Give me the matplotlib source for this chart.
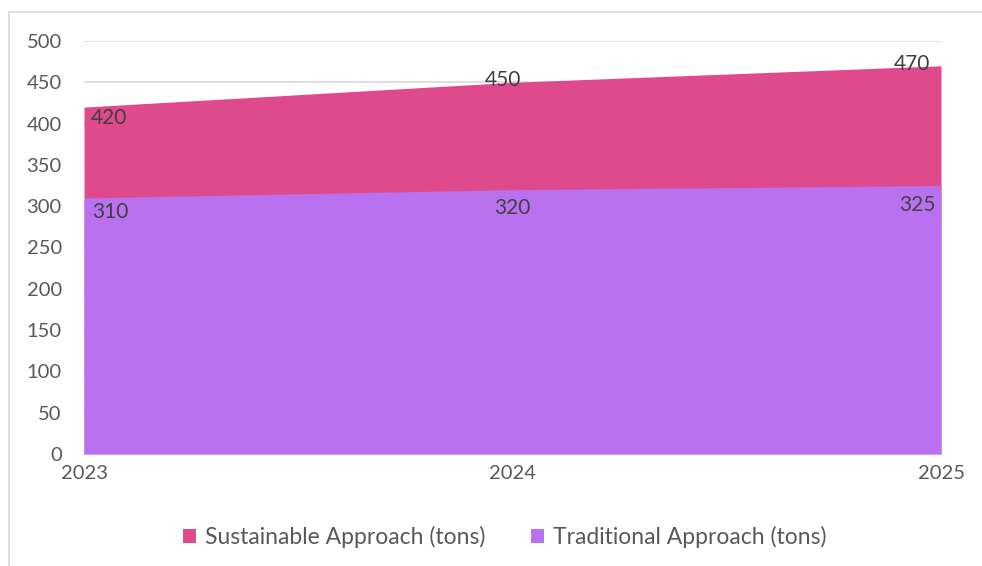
import matplotlib.pyplot as plt
from matplotlib.patches import Rectangle

years = ["2023", "2024", "2025"]
sustainable = [420, 450, 470]
traditional = [310, 320, 325]

pink = "#DF4A8C"
purple = "#B971F0"

plt.rcParams['font.family'] = ['Lato', 'DejaVu Sans']

fig = plt.figure(figsize=(9.82, 5.66), dpi=100)
ax = fig.add_axes([84 / 982, 1 - 454 / 566, (941 - 84) / 982, (454 - 41) / 566])

x = list(range(len(years)))
ax.fill_between(x, 0, sustainable, color=pink, linewidth=0, zorder=2, label="Sustainable Approach (tons)")
ax.fill_between(x, 0, traditional, color=purple, linewidth=0, zorder=3, label="Traditional Approach (tons)")

ax.set_xlim(0, 2)
ax.set_ylim(0, 500)
ax.set_yticks(range(0, 501, 50))
ax.set_xticks(x)
ax.set_xticklabels(years)
ax.grid(axis='y', color="#D9D9D9", linewidth=1.2, zorder=0)
ax.set_axisbelow(True)
for s in ["top", "right", "left"]:
    ax.spines[s].set_visible(False)
ax.spines["bottom"].set_color("#D9D9D9")
ax.tick_params(axis='both', length=0, labelsize=14.5, colors="#595959")
ax.tick_params(axis='y', pad=16)
ax.tick_params(axis='x', pad=8)

# data labels
lab = dict(fontsize=15, color="#404040", zorder=5)
ax.annotate(str(sustainable[0]), (0, sustainable[0]), xytext=(5, -8), textcoords="offset points", ha="left", va="center", **lab)
ax.annotate(str(sustainable[1]), (1, sustainable[1]), xytext=(-7, 2), textcoords="offset points", ha="center", va="center", **lab)
ax.annotate(str(sustainable[2]), (2, sustainable[2]), xytext=(-8, 1), textcoords="offset points", ha="right", va="center", **lab)
ax.annotate(str(traditional[0]), (0, traditional[0]), xytext=(6, -10), textcoords="offset points", ha="left", va="center", **lab)
ax.annotate(str(traditional[1]), (1, traditional[1]), xytext=(0, -13), textcoords="offset points", ha="center", va="center", **lab)
ax.annotate(str(traditional[2]), (2, traditional[2]), xytext=(-4, -14), textcoords="offset points", ha="right", va="center", **lab)

leg = fig.legend(loc="center", bbox_to_anchor=(505 / 982, 1 - 537 / 566), ncol=2, frameon=False,
                 fontsize=16.5, handlelength=0.55, handleheight=0.6, handletextpad=0.4, columnspacing=2.0)
for t in leg.get_texts():
    t.set_color("#595959")

# chart frame
fig.patches.append(Rectangle((9 / 982, -0.1), 1.1, 1 - 12 / 566 + 0.1, transform=fig.transFigure,
                             fill=False, edgecolor="#D9D9D9", linewidth=1.2))

fig.savefig("out.png", dpi=100)
